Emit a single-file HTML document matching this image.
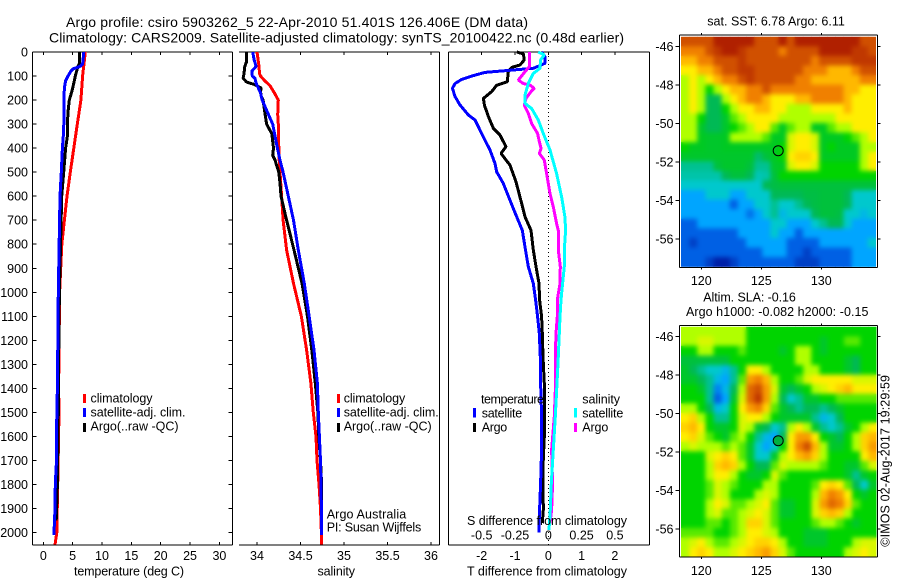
<!DOCTYPE html>
<html>
<head>
<meta charset="utf-8">
<title>Argo profile</title>
<style>
html,body{margin:0;padding:0;background:#fff;}
svg{display:block;}
text{font-family:"Liberation Sans",sans-serif;font-size:12.5px;fill:#000;}
.title{font-size:14px;}
</style>
</head>
<body>
<svg id="chart" width="900" height="580" viewBox="0 0 900 580" xmlns="http://www.w3.org/2000/svg">
<defs>
<clipPath id="clipSst"><rect x="681" y="36.7" width="195" height="230"/></clipPath>
<clipPath id="clipSla"><rect x="681" y="326.7" width="195.5" height="230"/></clipPath>
<filter id="soft" x="-5%" y="-5%" width="110%" height="110%" color-interpolation-filters="sRGB"><feGaussianBlur stdDeviation="2.5"/></filter>
</defs>
<rect x="0" y="0" width="900" height="580" fill="#fff"/>

<text class="title" x="66" y="27" textLength="462" lengthAdjust="spacing">Argo profile: csiro 5903262_5 22-Apr-2010 51.401S 126.406E (DM data)</text>
<text class="title" x="49" y="42.5" textLength="575" lengthAdjust="spacing">Climatology: CARS2009. Satellite-adjusted climatology: synTS_20100422.nc (0.48d earlier)</text>

<g id="layerAxes"></g>
<g id="layerMaps"></g>
<g id="layerLines"></g>

<text x="74" y="575.5" textLength="110" lengthAdjust="spacing">temperature (deg C)</text>
<text x="317.5" y="575.5" textLength="37.5" lengthAdjust="spacing">salinity</text>
<text x="467" y="575.5" textLength="160" lengthAdjust="spacing">T difference from climatology</text>
<text x="467" y="525" textLength="160" lengthAdjust="spacing">S difference from climatology</text>

<g>
<rect x="83" y="394" width="3" height="9" fill="#f00"/>
<rect x="83" y="408" width="3" height="9" fill="#00f"/>
<rect x="83" y="423" width="3" height="9" fill="#000"/>
<text x="90.5" y="402.7" textLength="62" lengthAdjust="spacing">climatology</text>
<text x="90.5" y="416.7" textLength="95" lengthAdjust="spacing">satellite-adj. clim.</text>
<text x="90.5" y="430.7" textLength="88" lengthAdjust="spacing">Argo(..raw -QC)</text>
</g>

<g>
<rect x="337" y="394" width="3" height="9" fill="#f00"/>
<rect x="337" y="408" width="3" height="9" fill="#00f"/>
<rect x="337" y="423" width="3" height="9" fill="#000"/>
<text x="343.7" y="402.7" textLength="61.5" lengthAdjust="spacing">climatology</text>
<text x="343.7" y="416.7" textLength="95" lengthAdjust="spacing">satellite-adj. clim.</text>
<text x="343.7" y="430.7" textLength="88" lengthAdjust="spacing">Argo(..raw -QC)</text>
</g>

<text x="326.7" y="518.3" textLength="79.5" lengthAdjust="spacing">Argo Australia</text>
<text x="326.7" y="531.7" textLength="94.5" lengthAdjust="spacing">PI: Susan Wijffels</text>

<g>
<text x="481" y="403.3" textLength="63" lengthAdjust="spacing">temperature</text>
<rect x="473" y="408" width="3" height="9.5" fill="#00f"/>
<text x="481.7" y="417.3" textLength="40.5" lengthAdjust="spacing">satellite</text>
<rect x="473" y="423" width="3" height="9" fill="#000"/>
<text x="481.7" y="431.3" textLength="25.5" lengthAdjust="spacing">Argo</text>
<text x="582.3" y="403.3" textLength="37.7" lengthAdjust="spacing">salinity</text>
<rect x="574" y="408" width="3" height="9.5" fill="#0ff"/>
<text x="582.3" y="417.3" textLength="41" lengthAdjust="spacing">satellite</text>
<rect x="574" y="423" width="3" height="9" fill="#f0f"/>
<text x="582.3" y="431.3" textLength="26" lengthAdjust="spacing">Argo</text>
</g>

<text x="707.3" y="25.7" textLength="137.5" lengthAdjust="spacing">sat. SST: 6.78 Argo: 6.11</text>
<text x="703.3" y="301.7" textLength="92.5" lengthAdjust="spacing">Altim. SLA: -0.16</text>
<text x="686" y="316" textLength="182.5" lengthAdjust="spacing">Argo h1000: -0.082 h2000: -0.15</text>
<text transform="translate(889.5,546.7) rotate(-90)" x="0" y="0" textLength="171.7" lengthAdjust="spacing">©IMOS 02-Aug-2017 19:29:59</text>
</svg>

<script>
/* ---------- depth axis and tick labels ---------- */
const depthTicks = [0,100,200,300,400,500,600,700,800,900,1000,1100,1200,1300,1400,1500,1600,1700,1800,1900,2000];
const temperatureTicks = [0,5,10,15,20,25,30];
const salinityTicks = [34,34.5,35,35.5,36];
const tDiffTicks = [-2,-1,0,1,2];
const sDiffTicks = ['-0.5','-0.25','0','0.25','0.5'];
const sDiffTickValues = [-0.5,-0.25,0,0.25,0.5];
const lonTicks = [120,125,130];
const latTicks = [-46,-48,-50,-52,-54,-56];

/* ---------- temperature profiles ---------- */
const tempClimDepths = [0,100,200,300,400,500,600,800,1000,1400,1500,1800,2000,2050];
const tempClimValues = [7.15,6.7,6.4,5.8,5.2,4.6,4.04,3.15,2.78,2.6,2.67,2.45,2.3,2.0];
const tempArgoDepths = [0,50,60,100,130,160,200,250,300,350,400,500,600,1000,1400,1500,1800,1950];
const tempArgoValues = [6.13,6.13,5.9,5.45,5.2,4.9,4.43,4.2,4.1,4.1,3.8,3.47,3.13,2.75,2.55,2.55,2.4,2.2];
const tempSatDepths = [0,50,60,70,80,100,120,150,200,300,350,400,500,600,1000,1400,1500,1700,1800,1900,2000,2010];
const tempSatValues = [6.9,6.7,6.25,5.1,4.7,4.2,3.8,3.6,3.5,3.5,3.4,3.25,3.07,2.85,2.55,2.4,2.3,2.25,2.05,2.0,1.83,1.83];

/* ---------- salinity profiles ---------- */
const salClimDepths = [0,50,90,100,120,140,170,200,260,300,400,450,500,600,700,824,963,1101,1240,1379,1500,1600,1700,1800,1900,2000,2050];
const salClimValues = [34.0,34.02,34.03,34.04,34.09,34.15,34.2,34.245,34.238,34.245,34.25,34.255,34.264,34.283,34.3,34.34,34.42,34.51,34.57,34.62,34.647,34.678,34.69,34.713,34.73,34.74,34.74];
const salArgoDepths = [0,40,60,90,110,125,135,150,165,185,200,250,300,340,400,430,450,500,550,600,700,824,963,1101,1240,1379,1500,1600,1700,1800,1870];
const salArgoValues = [33.88,33.88,33.86,33.85,33.84,33.88,33.965,34.05,34.04,34.05,34.07,34.09,34.11,34.17,34.19,34.18,34.207,34.25,34.265,34.276,34.34,34.425,34.517,34.58,34.63,34.67,34.7,34.71,34.73,34.743,34.743];
const salSatDepths = [0,30,60,80,100,110,130,150,170,200,250,300,350,400,450,500,600,700,824,963,1101,1240,1379,1500,1600,1700,1800,1900,2010];
const salSatValues = [33.95,33.966,33.99,33.94,33.946,33.977,33.99,34.015,34.04,34.06,34.12,34.18,34.207,34.234,34.264,34.3,34.36,34.42,34.475,34.544,34.6,34.655,34.694,34.705,34.717,34.73,34.736,34.74,34.743];

/* ---------- difference profiles ---------- */
const dTempSatDepths = [0,19,47,68,78,85,96,114,131,151,186,221,262,283,325,367,408,464,499,547,617,686,742,811,893,963,1032,1101,1171,1268,1379,1517,1656,1795,1934,2000];
const dTempSatValues = [-0.2,-0.1,-0.1,-0.45,-1.3,-1.9,-2.2,-2.6,-2.8,-2.88,-2.8,-2.65,-2.4,-2.2,-2.05,-1.9,-1.75,-1.6,-1.55,-1.35,-1.15,-0.95,-0.78,-0.7,-0.6,-0.45,-0.38,-0.32,-0.27,-0.24,-0.23,-0.2,-0.2,-0.23,-0.27,-0.28];
const dTempArgoDepths = [0,8,33,54,64,82,124,138,165,193,221,269,318,346,394,422,471,540,631,686,742,824,893,963,1032,1101,1171,1268,1379,1517,1601,1725,1906,1961];
const dTempArgoValues = [-0.95,-0.75,-0.72,-0.85,-1.1,-1.2,-1.23,-1.55,-1.7,-1.95,-1.92,-1.8,-1.65,-1.45,-1.27,-1.42,-1.15,-0.97,-0.8,-0.7,-0.52,-0.45,-0.37,-0.28,-0.26,-0.2,-0.18,-0.16,-0.12,-0.12,-0.12,-0.16,-0.15,-0.18];
const dSalArgoDepths = [0,61,82,117,131,138,151,165,193,221,256,297,339,367,401,422,450,506,589,644,714,742,824,893,963,1032,1101,1171,1268,1379,1517,1656,1795,1906,1961];
const dSalArgoValues = [-0.1425,-0.1425,-0.175,-0.225,-0.1875,-0.1375,-0.105,-0.13,-0.1675,-0.18,-0.15,-0.125,-0.08,-0.07,-0.055,-0.0675,-0.03,-0.0125,0.0125,0.0375,0.0625,0.075,0.075,0.09,0.0875,0.0675,0.0675,0.0575,0.0525,0.055,0.045,0.025,0.0325,0.025,0.0125];
const dSalSatDepths = [0,12,33,68,89,131,179,214,235,283,339,408,506,603,686,742,824,893,963,1032,1101,1171,1268,1379,1517,1656,1795,1906,1989];
const dSalSatValues = [-0.075,-0.03,-0.0575,-0.0625,-0.1125,-0.15,-0.175,-0.175,-0.125,-0.075,-0.0375,0.0125,0.0625,0.1,0.125,0.13,0.12,0.12,0.1075,0.095,0.0875,0.0825,0.075,0.065,0.0525,0.0375,0.0225,0.015,0.005];

/* ---------- map grids (colour-scale index, north row first) ---------- */
const sstGrid = [
[10,10,10,10,11,11,11,11,11,10,10,10,11,10,11,11,11,11,11,11,11,11,10,10],
[9,9,9,10,10.5,11,11,10.5,10,10,10,10,9,10,10,10,10,11,11,11,11,10.5,10.5,10],
[8,8,9,9,10,10,10,10.5,10,10,10,10,10,10,10,10,9,10,10,10,10,10.5,10.5,10.5],
[7,7,8,8,9,10,10,10.5,10.5,10,10,10,10,10,10,9,9,9,8,8,8,9,10,10],
[6,7,6,7,8,9,9,10,10.5,10,10,10,10,10,9,9,8,8,8,8,8,8,9,9],
[6,7,6,5,6,7,8,8,9,9,10,9,9,9,9,9,9,9,9,9,8,8,7,7],
[6,7,6,4,4,6,7,8,9,9,8,7,7,7,8,8,9,9,9,9,8,7,7,7],
[6,7,6,4,4,5,6,7,7,8,8,7,7,6,6,6,7,7,7,7,8,7,7,7],
[6,6,5,4,4,4.5,5.5,6,7,7,7,7,6,6,6,6,6,6,6,7,7,7,7,7],
[6,6,4.5,4,4,4.5,5,5.5,6,7,7,5.5,4.6,5.5,6,6,4.6,4.6,5.5,6,6,7,7,7],
[6,6,4.6,4.5,4.5,4.6,6,6,6,6,5.5,4.6,4.6,6.5,7,7,6.5,4.6,4.6,4.6,5,5.5,6,7],
[5,4.6,4.6,4.5,4.5,4.6,4.6,4.6,4.6,4.6,4.6,4.6,5,6.5,7,7,6.5,4.6,5,4.6,4.6,4.6,6,6],
[4.5,4.5,4.5,4.5,4.5,4.5,4.5,4.5,4.5,3.8,4.3,4.6,5,7,7.5,7.5,7,4.6,4.6,4.6,4.6,4.6,6,7],
[3.5,3.5,3.5,3.5,4.3,4.5,4.5,4.5,4.3,3.5,3.5,4.5,4.6,6.5,7,7,6.5,5,5,5,5,5,6,7],
[3.3,3.3,3.3,3.3,3.3,4,4.3,4.3,4,3.2,3.3,4.3,5,5,5,5,5,5,5,5,5,5,5,5],
[3,3,3,3,3,3,3,3,3,3,4,4.2,4.3,4.3,4.3,4.3,4.3,4.3,4.3,4.3,4.3,4.3,4.3,4.3],
[2,2,2,3,3,3,2,2,3,3,3,4,4,4,4,4.2,4.2,4.3,4.3,4.3,4,3,3,3],
[2,2,2,2,2,2,1,2,2,3,3,3.5,3,3,3.5,4,4.2,4.3,4.3,4.3,4,3,3,3],
[2,2,2,2,2,2,2,2,1.3,2,3,3.5,2.5,3,3,3,4,4.3,4.3,4.2,3,3,2.5,3],
[1,1,2,2,2,2,2,2,2,2,2,3,3,2,2,2,3,3.5,4,4,3,2,2,2],
[1,1,1,1,1,1,1,2,2,2,2,3,2,2,1,2,2,2,2,2,2,2,2,2],
[1,0.5,1,1,1,1,1,1,2,2,2,2,2,1,1,1,1,2,2,2,2,2,2,3],
[1,1,1,1,1,1,1,1,1,1,2,2,2,1,1,0.5,1,1,1,1,1,2,2,2],
[1,1,1,0.5,0,0,0.5,1,1,1,1,1,1,1,0.5,0.5,0.5,1,1,1,1,2,2,2]
];
const slaGrid = [
[6,6,6,6,6,6,6,6,5,5,5,5,5,5,5,5,5,5,5,5,5,5,5,5],
[6,6,6.5,6.5,6,6,6,6,5,5,5,5,5,5,5,5,5,4.5,5,5,5.5,5.5,5,5],
[5,5,6,6,5,5,5,5.5,5,5,5,5,4.5,5,6,6,5,4.5,5,5,5,5,5,5],
[4.3,4.3,4.3,4.3,4.3,4.3,5,5,5,5,5,5,5,5,6,6,5,5,5,5,4.5,4,5,5],
[4.5,4,3.5,3,3,2.5,3.5,5,7,7,6,5,5,5,5,6,6,5,5,5,4.5,4,5,5],
[4.5,4.5,4,3.5,2.5,2,3.5,5.5,8.5,9,8,6,5,5,5.5,6.5,7,7,7,7,7,6.5,6.5,6.5],
[5,5,4.5,3.5,1.5,2.5,4,6,9.5,10,8.5,6.5,4.5,4,4.5,5,6,6.5,7,7.5,8,7,7,7],
[5,5,5,3.5,1,2,4.5,6.5,9.5,10.5,8.5,6,4,3,3.5,4.5,4.5,5,5,5.5,5.5,5.5,5.5,5.5],
[6,6,5,4,2.5,3,5,7,8.5,9,7.5,5.5,4.5,4,3.5,4,4,3.5,4,4.5,5,5,5,5],
[7,7.5,6,5,3.5,3.5,5,6.5,7,7,6,5,4.5,4.5,4.5,4.5,3.5,2.5,3,4,5,5,5,5],
[7.5,8,7,5,4.5,4.5,5,6.5,6,4.5,4,3,3.5,6,7,6,4.5,3.5,3,3.5,4.5,5,6,7],
[7,7.5,6.5,5.5,5,4.5,5.5,6,5,3.5,2.5,2,4,7,8.5,8.5,7,5,4.5,4,5,6,7.5,8],
[6,6.5,6,6,6,5.5,6,5.5,4.5,3,2,3,5,7,9,10,8,6,4.5,4.5,5,6,7.5,8.5],
[5,5,5,6.5,7,7.5,7,5.5,4.5,3,3,4.5,6,7,8,8.5,7.5,6,5,5,5,5,7,8],
[5,5,5,6,7.5,8,7.5,6,5,4,4,5.5,6.5,6,6,6,6,5.5,5,5,4.5,4.5,5.5,6.5],
[5,5,5,6,7,7,6,5,4.5,4.5,5,6.5,5.5,5,5,5,5,5,5,5,4.5,3.5,4.5,5],
[5,5,5,5.5,6.5,6,5.5,5,5,5,6,6,5,5,5,5,5.5,7,7.5,7,5.5,4,3,4.5],
[5,5,5,5.5,6.5,6,5,5,5,6,6.5,6,5,5,5,5,6,8,9,8.5,7,5,4.5,5],
[5,5,5,6,7,6.5,5.5,5.5,6,6.5,7,5.5,4.5,4.5,5,5,6.5,8.5,9.5,9,7.5,5.5,5,5],
[5,5,5,6,6.5,5.5,5.5,6,6.5,7,6.5,5.5,4.5,4.5,5,5,6.5,7.5,8,7.5,6,5,5,5],
[5,5,5,5.5,5.5,5,5.5,6,7.5,7.5,6.5,5.5,5,5,5,5,5.5,6,6,5.5,5,4.5,5,5],
[5.5,5.5,5.5,5.5,5,5,5.5,6,7,7,6.5,6,5,5,5,4.5,4.5,4.5,5,5,5,5,5,5],
[6,6.5,7,6,5.5,5.5,6,6.5,7,7.5,7.5,7,6,5,5,4.5,4.5,4.5,5,5,5,6,6.5,6.5],
[6,7,7.5,7,6,6,6.5,7,7.5,8,8.5,7.5,6.5,5.5,5,5,5,5,5,5,6,6.5,7,6.5]
];
const colourStops = [[0,32,168],[0,96,228],[0,165,255],[0,200,205],[0,185,85],[0,212,0],[176,255,0],[255,238,0],[255,184,0],[240,128,0],[208,80,0],[176,32,0]];
const floatLon = 126.406;
const floatLat = -51.401;

const SVGNS = 'http://www.w3.org/2000/svg';
const axesLayer = document.getElementById('layerAxes');
const mapsLayer = document.getElementById('layerMaps');
const linesLayer = document.getElementById('layerLines');

/* axis functions */
function yDepth(d){ return 52 + 0.2403 * d; }
function xTemp(t){ return 43.3 + 5.87 * t; }
function xSal(s){ return 257 + 87 * (s - 34); }
function xDT(t){ return 548.3 + 33.3 * t; }
function xDS(s){ return 548.3 + 133.2 * s; }
function xLon(a){ return 701.3 + 12 * (a - 120); }
function ySstLat(a){ return 46.7 + 19.25 * (-46 - a); }
function ySlaLat(a){ return 336.7 + 19.25 * (-46 - a); }

function addSeg(parent, x1, y1, x2, y2){
  const el = document.createElementNS(SVGNS, 'line');
  el.setAttribute('x1', x1);
  el.setAttribute('y1', y1);
  el.setAttribute('x2', x2);
  el.setAttribute('y2', y2);
  el.setAttribute('stroke', '#000');
  el.setAttribute('stroke-width', '1');
  el.setAttribute('shape-rendering', 'crispEdges');
  
  
  parent.appendChild(el);
  return el;
}
function addLabel(parent, str, x, y, anchor){
  const el = document.createElementNS(SVGNS, 'text');
  el.setAttribute('x', x);
  el.setAttribute('y', y);
  el.setAttribute('text-anchor', anchor);
  el.textContent = str;
  
  
  parent.appendChild(el);
  return el;
}
function drawProfile(depths, values, xf, colour, name){
  const el = document.createElementNS(SVGNS, 'polyline');
  el.setAttribute('points', depths.map((d, i) => xf(values[i]).toFixed(1) + ',' + yDepth(d).toFixed(1)).join(' '));
  el.setAttribute('fill', 'none');
  el.setAttribute('stroke', colour);
  el.setAttribute('stroke-width', '3');
  el.setAttribute('stroke-linejoin', 'bevel');
  el.setAttribute('shape-rendering', 'crispEdges');
  
  
  linesLayer.appendChild(el);
}
function colourFor(v){
  const i = Math.max(0, Math.min(colourStops.length - 1, v));
  const a = Math.floor(i);
  const b = Math.min(colourStops.length - 1, a + 1);
  const f = i - a;
  const c = colourStops[a].map((k, n) => Math.round(k + (colourStops[b][n] - k) * f));
  return 'rgb(' + c.join(',') + ')';
}
function drawGrid(parent, grid, x0, y0, w, h){
  const rows = grid.length;
  const cols = grid[0].length;
  const cw = w / cols;
  const ch = h / rows;
  grid.forEach((row, r) => {
    row.forEach((v, c) => {
      const el = document.createElementNS(SVGNS, 'rect');
      el.setAttribute('x', (x0 + c * cw).toFixed(2));
      el.setAttribute('y', (y0 + r * ch).toFixed(2));
      el.setAttribute('width', (cw + 0.6).toFixed(2));
      el.setAttribute('height', (ch + 0.6).toFixed(2));
      el.setAttribute('fill', colourFor(v));
      
      
      parent.appendChild(el);
    });
  });
}

/* profile panel frames */
const P1 = {l:32.5, r:232.5, t:52, b:545};
const P2 = {l:239, r:439.5, t:52, b:545};
const P3 = {l:448.5, r:649.5, t:52, b:545};

[P1, P2, P3].forEach(p => {
  addSeg(axesLayer, p.l, p.t, p.r, p.t);
  addSeg(axesLayer, p.l, p.b, p.r, p.b);
  addSeg(axesLayer, p.r, p.t, p.r, p.b);
});
addSeg(axesLayer, P1.l, P1.t, P1.l, P1.b);
addSeg(axesLayer, P3.l, P3.t, P3.l, P3.b);

depthTicks.forEach(d => {
  const y = yDepth(d);
  addSeg(axesLayer, P1.l, y, P1.l + 4, y);
  addSeg(axesLayer, P1.r - 4, y, P1.r, y);
  addLabel(axesLayer, String(d), 28, y + 4.5, 'end');
});
temperatureTicks.forEach(t => {
  const x = xTemp(t);
  addSeg(axesLayer, x, P1.t, x, P1.t + 3);
  addSeg(axesLayer, x, P1.b - 3, x, P1.b);
  addLabel(axesLayer, String(t), x, 560, 'middle');
});
salinityTicks.forEach(s => {
  const x = xSal(s);
  addSeg(axesLayer, x, P2.t, x, P2.t + 3);
  addSeg(axesLayer, x, P2.b - 3, x, P2.b);
  addLabel(axesLayer, String(s), x, 560, 'middle');
});
tDiffTicks.forEach(t => {
  const x = xDT(t);
  addSeg(axesLayer, x, P3.t, x, P3.t + 3);
  addLabel(axesLayer, String(t), x, 560, 'middle');
});
sDiffTicks.forEach((lab, i) => {
  addLabel(axesLayer, lab, xDS(sDiffTickValues[i]), 539.3, 'middle');
});

/* zero line */
const zeroLine = addSeg(axesLayer, xDT(0), P3.t, xDT(0), P3.b);
zeroLine.setAttribute('stroke-dasharray', '1 3');


/* maps */
function drawMap(grid, clipId, imgTop, imgW, frameTop, frameBottom, yLat, labelBaseline, name){
  const clip = document.createElementNS(SVGNS, 'g');
  clip.setAttribute('clip-path', 'url(#' + clipId + ')');
  
  
  mapsLayer.appendChild(clip);
  const base = document.createElementNS(SVGNS, 'g');
  
  
  clip.appendChild(base);
  drawGrid(base, grid, 681, imgTop, imgW, 230);
  const soft = document.createElementNS(SVGNS, 'g');
  soft.setAttribute('filter', 'url(#soft)');
  
  
  clip.appendChild(soft);
  drawGrid(soft, grid, 681, imgTop, imgW, 230);
  addSeg(mapsLayer, 679.5, frameTop, 877.5, frameTop);
  addSeg(mapsLayer, 679.5, frameBottom, 877.5, frameBottom);
  addSeg(mapsLayer, 679.5, frameTop, 679.5, frameBottom);
  addSeg(mapsLayer, 877.5, frameTop, 877.5, frameBottom);
  latTicks.forEach(a => {
    const y = yLat(a);
    addSeg(mapsLayer, 675.5, y, 679.5, y);
    addSeg(mapsLayer, 877.5, y, 880.5, y);
    addLabel(mapsLayer, String(a), 673.5, y + 4.2, 'end');
  });
  lonTicks.forEach(a => {
    const x = xLon(a);
    addSeg(mapsLayer, x, frameTop - 2, x, frameTop);
    addSeg(mapsLayer, x, frameBottom, x, frameBottom + 2);
    addLabel(mapsLayer, String(a), x, labelBaseline, 'middle');
  });
}
drawMap(sstGrid, 'clipSst', 36.7, 195, 35, 267.5, ySstLat, 285, 'sst-map');
drawMap(slaGrid, 'clipSla', 326.7, 195.5, 325.5, 557, ySlaLat, 575, 'sla-map');

const sstMarker = document.createElementNS(SVGNS, 'circle');
sstMarker.setAttribute('cx', xLon(floatLon).toFixed(1));
sstMarker.setAttribute('cy', ySstLat(floatLat).toFixed(1));
sstMarker.setAttribute('r', '5');
sstMarker.setAttribute('fill', 'none');
sstMarker.setAttribute('stroke', '#000');


mapsLayer.appendChild(sstMarker);

const slaMarker = document.createElementNS(SVGNS, 'circle');
slaMarker.setAttribute('cx', xLon(floatLon).toFixed(1));
slaMarker.setAttribute('cy', ySlaLat(floatLat).toFixed(1));
slaMarker.setAttribute('r', '5');
slaMarker.setAttribute('fill', '#00b040');
slaMarker.setAttribute('stroke', '#000');


mapsLayer.appendChild(slaMarker);

/* series */
drawProfile(tempClimDepths, tempClimValues, xTemp, '#f00', 'temperature-climatology-line');
drawProfile(tempArgoDepths, tempArgoValues, xTemp, '#000', 'temperature-argo-line');
drawProfile(tempSatDepths, tempSatValues, xTemp, '#00f', 'temperature-satellite-line');
drawProfile(salClimDepths, salClimValues, xSal, '#f00', 'salinity-climatology-line');
drawProfile(salArgoDepths, salArgoValues, xSal, '#000', 'salinity-argo-line');
drawProfile(salSatDepths, salSatValues, xSal, '#00f', 'salinity-satellite-line');
drawProfile(dTempArgoDepths, dTempArgoValues, xDT, '#000', 'temperature-difference-argo-line');
drawProfile(dTempSatDepths, dTempSatValues, xDT, '#00f', 'temperature-difference-satellite-line');
drawProfile(dSalArgoDepths, dSalArgoValues, xDS, '#f0f', 'salinity-difference-argo-line');
drawProfile(dSalSatDepths, dSalSatValues, xDS, '#0ff', 'salinity-difference-satellite-line');
</script>
</body>
</html>
